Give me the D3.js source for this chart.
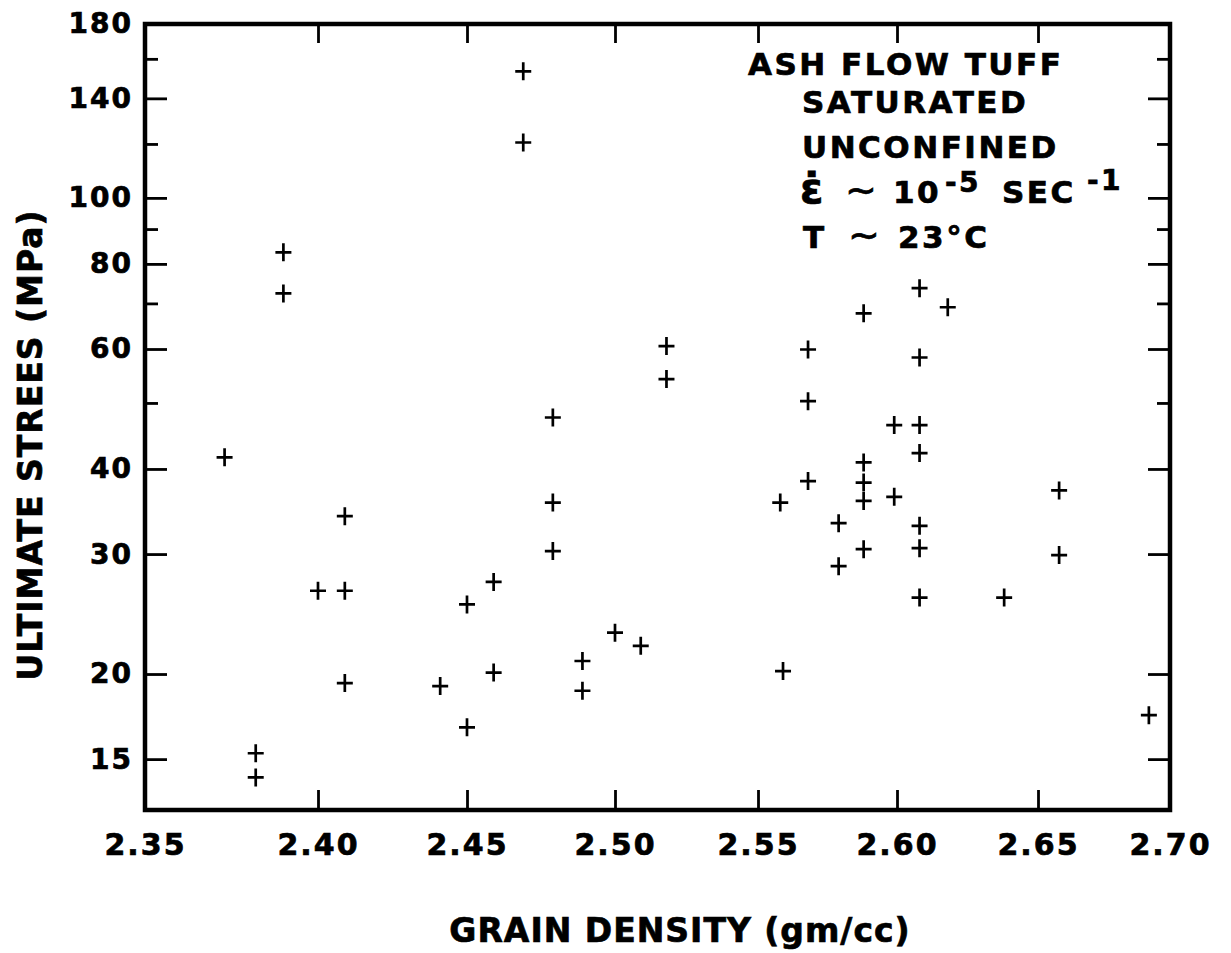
<!DOCTYPE html>
<html>
<head>
<meta charset="utf-8">
<script src="https://cdn.jsdelivr.net/npm/d3@7"></script>
<style>
  body { margin: 0; background: #fff; }
  text { font-family: "DejaVu Sans", sans-serif; font-weight: bold; fill: #000; stroke: #000; stroke-width: 0.7px; }
</style>
</head>
<body>
<div id="chart"></div>
<script>
const width = 1231;
const height = 953;

// grain density (gm/cc) and ultimate stress (MPa)
const density = [2.373, 2.390, 2.390, 2.382, 2.382, 2.400, 2.409, 2.409, 2.409, 2.441,
  2.450, 2.450, 2.459, 2.459, 2.469, 2.469, 2.479, 2.479, 2.479, 2.489,
  2.489, 2.500, 2.509, 2.518, 2.518, 2.558, 2.559, 2.568, 2.568, 2.568,
  2.579, 2.579, 2.588, 2.588, 2.588, 2.588, 2.588, 2.599, 2.599, 2.608,
  2.608, 2.608, 2.608, 2.608, 2.608, 2.608, 2.618, 2.638, 2.658, 2.658, 2.692];
const stress = [41.6, 83.2, 72.4, 15.3, 14.1, 26.5, 34.1, 26.5, 19.4, 19.2,
  25.3, 16.7, 27.3, 20.1, 153.4, 120.6, 47.6, 35.7, 30.3, 20.9,
  18.9, 23.0, 22.0, 60.6, 54.2, 35.7, 20.2, 59.9, 50.3, 38.4,
  33.3, 28.8, 67.7, 40.9, 38.2, 35.9, 30.5, 46.4, 36.4, 73.7,
  58.3, 46.4, 42.2, 33.0, 30.6, 25.9, 69.1, 25.9, 37.2, 29.9, 17.4];

const xTicks = [2.35, 2.40, 2.45, 2.50, 2.55, 2.60, 2.65, 2.70];
const yMajor = [15, 20, 30, 40, 60, 80, 100, 140, 180];
const yMinor = [50, 70, 90, 120, 160];

const plotLeft = 145, plotRight = 1170, plotTop = 24, plotBottom = 810;

// the drafted x axis is not evenly spaced, so map each tick where it was drawn
const xPx = [plotLeft, 318, 467, 615, 758, 897, 1038, plotRight];
const x = d3.scaleLinear().domain(xTicks).range(xPx);
const y = d3.scaleLog().domain([12.63, 180]).range([plotBottom, plotTop]);

const svg = d3.select("#chart")
  .append("svg")
  .attr("width", width)
  .attr("height", height);

function clean(g) {
  g.select(".domain").remove();
  g.selectAll(".tick line").attr("stroke", "#000").attr("stroke-width", 2.8);
}

// left axis, major + minor
svg.append("g")
  .attr("transform", `translate(${plotLeft},0)`)
  .call(d3.axisLeft(y).tickValues(yMajor).tickSize(-22).tickPadding(12).tickFormat(d3.format("d")))
  .call(clean)
  .call(g => g.selectAll("text")
    .attr("font-size", 28).attr("letter-spacing", 2).attr("font-family", "DejaVu Sans"));

svg.append("g")
  .attr("transform", `translate(${plotLeft},0)`)
  .call(d3.axisLeft(y).tickValues(yMinor).tickSize(-13).tickFormat(""))
  .call(clean);

// right axis
svg.append("g")
  .attr("transform", `translate(${plotRight},0)`)
  .call(d3.axisRight(y).tickValues(yMajor).tickSize(-22).tickFormat(""))
  .call(clean);

svg.append("g")
  .attr("transform", `translate(${plotRight},0)`)
  .call(d3.axisRight(y).tickValues(yMinor).tickSize(-13).tickFormat(""))
  .call(clean);

// bottom axis
svg.append("g")
  .attr("transform", `translate(0,${plotBottom})`)
  .call(d3.axisBottom(x).tickValues(xTicks).tickSize(-20).tickPadding(24).tickFormat(d3.format(".2f")))
  .call(clean)
  .call(g => g.selectAll("text")
    .attr("font-size", 30).attr("letter-spacing", 2).attr("font-family", "DejaVu Sans"));

// top axis
svg.append("g")
  .attr("transform", `translate(0,${plotTop})`)
  .call(d3.axisTop(x).tickValues(xTicks.slice(1, -1)).tickSize(-19).tickFormat(""))
  .call(clean);

// frame
svg.append("rect")
  .attr("x", plotLeft).attr("y", plotTop)
  .attr("width", plotRight - plotLeft).attr("height", plotBottom - plotTop)
  .attr("fill", "none").attr("stroke", "#000").attr("stroke-width", 4.5);

// points
const pts = density.map((d, i) => ({ x: d, y: stress[i] }));
svg.append("g")
  .selectAll("path")
  .data(pts)
  .join("path")
  .attr("transform", d => `translate(${x(d.x)},${y(d.y)})`)
  .attr("d", "M-8,0H8M0,-9V9")
  .attr("stroke", "#000")
  .attr("stroke-width", 2.7)
  .attr("fill", "none");

// axis titles
svg.append("text")
  .attr("x", 680).attr("y", 942)
  .attr("text-anchor", "middle")
  .attr("font-size", 33).attr("letter-spacing", 1)
  .text("GRAIN DENSITY (gm/cc)");

svg.append("text")
  .attr("transform", "translate(42,445) rotate(-90)")
  .attr("text-anchor", "middle")
  .attr("font-size", 33).attr("letter-spacing", 1)
  .text("ULTIMATE STREES (MPa)");

// annotation
const note = svg.append("g").attr("font-size", 31).attr("letter-spacing", 2.5);
note.append("text").attr("x", 748).attr("y", 75).text("ASH FLOW TUFF");
note.append("text").attr("x", 802).attr("y", 113).text("SATURATED");
note.append("text").attr("x", 802).attr("y", 158).text("UNCONFINED");

const rate = note.append("text").attr("y", 203);
rate.append("tspan").attr("x", 800).attr("font-size", 42).text("\u03B5\u0307");
rate.append("tspan").attr("x", 845).attr("font-weight", "normal").attr("font-size", 38).text("\u223C");
rate.append("tspan").attr("x", 893).text("10");
rate.append("tspan").attr("x", 945).attr("y", 192).attr("font-size", 28).text("-5");
rate.append("tspan").attr("x", 1002).attr("y", 203).text("SEC");
rate.append("tspan").attr("x", 1087).attr("y", 190).attr("font-size", 28).text("-1");

const temp = note.append("text").attr("y", 248);
temp.append("tspan").attr("x", 803).text("T");
temp.append("tspan").attr("x", 848).attr("font-weight", "normal").attr("font-size", 38).text("\u223C");
temp.append("tspan").attr("x", 898).text("23\u00B0C");
</script>
</body>
</html>
